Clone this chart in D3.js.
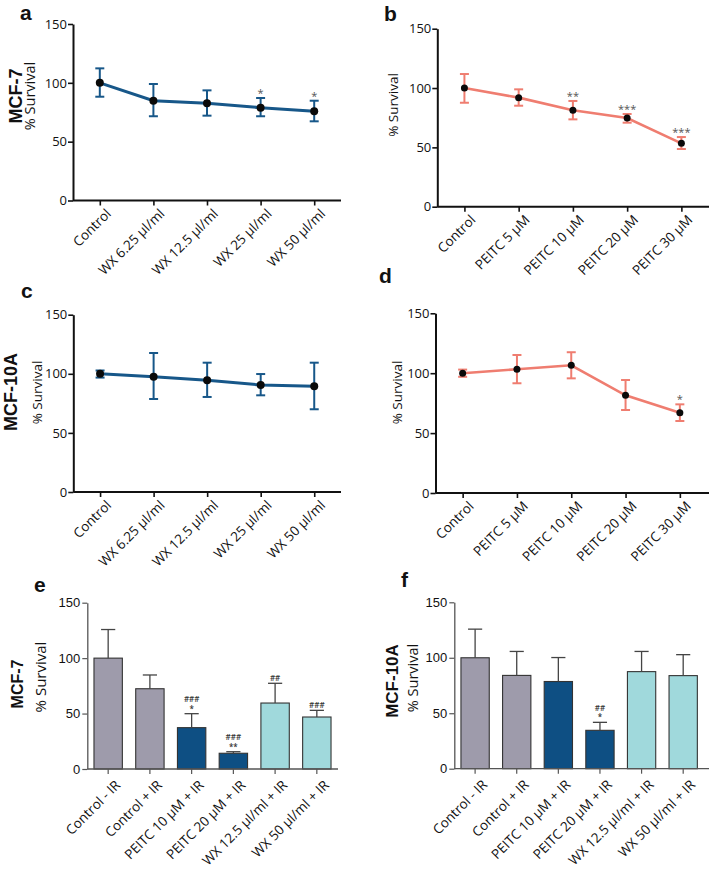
<!DOCTYPE html>
<html><head><meta charset="utf-8">
<script src="https://cdn.jsdelivr.net/npm/d3@7"></script>
<style>body{margin:0;background:#fff}svg{display:block}</style>
</head><body>
<svg id="c" width="709" height="869"></svg>
<script>
// ---------- data ----------
const wxCats = ["Control", "WX 6.25 µl/ml", "WX 12.5 µl/ml", "WX 25 µl/ml", "WX 50 µl/ml"];
const peitcCats = ["Control", "PEITC 5 µM", "PEITC 10 µM", "PEITC 20 µM", "PEITC 30 µM"];
const barCats = ["Control - IR", "Control + IR", "PEITC 10 µM + IR", "PEITC 20 µM + IR", "WX 12.5 µl/ml + IR", "WX 50 µl/ml + IR"];
const yTicks = [0, 50, 100, 150];

const aMean = [100, 84.8, 82.6, 78.9, 75.8];
const aLow  = [88.2, 71.6, 72.1, 71.6, 67.3];
const aHigh = [112.3, 99.0, 93.6, 87.1, 84.8];
const aSig  = ["", "", "", "*", "*"];

const bMean = [100, 91.9, 81.2, 74.7, 53.4];
const bLow  = [87.6, 85.1, 73.6, 70.8, 48.6];
const bHigh = [111.8, 98.9, 89.1, 78.1, 58.7];
const bSig  = ["", "", "**", "***", "***"];

const cMean = [100, 97.6, 94.5, 90.5, 89.4];
const cLow  = [96.8, 78.7, 80.4, 81.8, 70.0];
const cHigh = [102.8, 117.6, 109.4, 99.8, 109.4];
const cSig  = ["", "", "", "", ""];

const dMean = [100, 103.3, 106.6, 81.5, 67.0];
const dLow  = [97.0, 91.6, 95.7, 69.3, 60.1];
const dHigh = [103.0, 115.2, 117.5, 94.3, 74.0];
const dSig  = ["", "", "", "", "*"];

const eMean = [100, 72.4, 37.3, 14.2, 59.5, 46.9];
const eHigh = [125.8, 84.8, 49.9, 15.6, 77.3, 52.9];
const eSig  = [[], [], ["*", "###"], ["**", "###"], ["##"], ["###"]];

const fMean = [100, 84.1, 78.6, 34.6, 87.5, 83.9];
const fHigh = [125.8, 105.7, 100.2, 41.8, 105.7, 102.8];
const fSig  = [[], [], [], ["*", "##"], [], []];

const barGroup = ["ctrl", "ctrl", "peitc", "peitc", "wx", "wx"];

// ---------- styles ----------
const BLUE = "#175789", SALMON = "#ef7d70";
const barFill = {ctrl: "#9e9bab", peitc: "#0e4f83", wx: "#a0d9dc"};
const sans = "'Open Sans', sans-serif";
const arial = "'Liberation Sans', Arial, sans-serif";
const svg = d3.select("#c");

function rotLabels(g, xc, cats, y0, dx, dy, fs) {
  g.selectAll(null).data(cats).enter().append("text")
    .attr("transform", d => `translate(${xc(d) + dx},${y0 + dy}) rotate(-45)`)
    .attr("text-anchor", "end")
    .attr("font-family", sans).attr("font-size", fs).attr("fill", "#111")
    .text(d => d);
}

function linePanel(o) {
  const x = d3.scalePoint().domain(o.cats).range([o.x0, o.x1]).padding(0.5);
  const y = d3.scaleLinear().domain([0, 150]).range([o.yb, o.yt]);
  const g = svg.append("g");
  const ya = g.append("g").attr("transform", `translate(${o.x0},0)`)
    .call(d3.axisLeft(y).tickValues(yTicks).tickSize(5).tickSizeOuter(0).tickPadding(1));
  const xa = g.append("g").attr("transform", `translate(0,${o.yb})`)
    .call(d3.axisBottom(x).tickSize(5).tickSizeOuter(0));
  xa.selectAll("text").remove();
  [ya, xa].forEach(a => {
    a.select(".domain").attr("stroke", "#111").attr("stroke-width", 2);
    a.selectAll(".tick line").attr("stroke", "#111").attr("stroke-width", 1.6);
  });
  xa.select(".domain").attr("d", `M${o.x0},0H${o.xEnd}`);
  ya.selectAll("text").attr("font-family", sans).attr("font-size", 13).attr("fill", "#111");
  rotLabels(g, x, o.cats, o.yb, 12, 14, 13.5);

  const idx = d3.range(o.cats.length);
  const line = d3.line().x(i => x(o.cats[i])).y(i => y(o.mean[i]));
  g.append("path").datum(idx).attr("d", line).attr("fill", "none")
    .attr("stroke", o.color).attr("stroke-width", o.lw);
  const cw = 4.5;
  const eb = g.selectAll(null).data(idx).enter().append("g");
  eb.append("line").attr("x1", i => x(o.cats[i])).attr("x2", i => x(o.cats[i]))
    .attr("y1", i => y(o.low[i])).attr("y2", i => y(o.high[i]));
  eb.append("line").attr("x1", i => x(o.cats[i]) - cw).attr("x2", i => x(o.cats[i]) + cw)
    .attr("y1", i => y(o.low[i])).attr("y2", i => y(o.low[i]));
  eb.append("line").attr("x1", i => x(o.cats[i]) - cw).attr("x2", i => x(o.cats[i]) + cw)
    .attr("y1", i => y(o.high[i])).attr("y2", i => y(o.high[i]));
  eb.selectAll("line").attr("stroke", o.color).attr("stroke-width", 2);
  g.selectAll(null).data(idx).enter().append("circle")
    .attr("cx", i => x(o.cats[i])).attr("cy", i => y(o.mean[i])).attr("r", o.r).attr("fill", "#0a0a0a");
  g.selectAll(null).data(idx.filter(i => o.sig[i])).enter().append("text")
    .attr("x", i => x(o.cats[i])).attr("y", i => y(o.high[i]) - 1)
    .attr("text-anchor", "middle").attr("font-family", sans).attr("font-size", 11).attr("fill", "#555")
    .text(i => o.sig[i]);
}

function barPanel(o) {
  const x = d3.scaleBand().domain(o.cats).range([o.x0, o.x1]).paddingInner(0.32).paddingOuter(0.16);
  const y = d3.scaleLinear().domain([0, 150]).range([o.yb, o.yt]);
  const g = svg.append("g");
  const idx = d3.range(o.cats.length);
  const bw = x.bandwidth();
  g.selectAll(null).data(idx).enter().append("rect")
    .attr("x", i => x(o.cats[i])).attr("width", bw)
    .attr("y", i => y(o.mean[i])).attr("height", i => y(0) - y(o.mean[i]))
    .attr("fill", i => barFill[barGroup[i]]).attr("stroke", "#333").attr("stroke-width", 1.1);
  const cx = i => x(o.cats[i]) + bw / 2;
  const eb = g.selectAll(null).data(idx).enter().append("g");
  eb.append("line").attr("x1", cx).attr("x2", cx).attr("y1", i => y(o.mean[i])).attr("y2", i => y(o.high[i]));
  eb.append("line").attr("x1", i => cx(i) - bw / 4).attr("x2", i => cx(i) + bw / 4)
    .attr("y1", i => y(o.high[i])).attr("y2", i => y(o.high[i]));
  eb.selectAll("line").attr("stroke", "#444").attr("stroke-width", 1.3);
  idx.forEach(i => {
    o.sig[i].forEach((s, k) => {
      g.append("text").attr("x", cx(i)).attr("y", y(o.high[i]) - 2 - 9.5 * k)
        .attr("text-anchor", "middle").attr("font-family", sans).attr("font-size", 8)
        .attr("font-weight", 600).attr("fill", "#333").text(s);
    });
  });
  const ya = g.append("g").attr("transform", `translate(${o.x0},0)`)
    .call(d3.axisLeft(y).tickValues(yTicks).tickSize(5).tickSizeOuter(0).tickPadding(2));
  const xa = g.append("g").attr("transform", `translate(0,${o.yb})`)
    .call(d3.axisBottom(x).tickSize(5).tickSizeOuter(0));
  xa.selectAll("text").remove();
  [ya, xa].forEach(a => {
    a.select(".domain").attr("stroke", "#555").attr("stroke-width", 1.3);
    a.selectAll(".tick line").attr("stroke", "#555").attr("stroke-width", 1.2);
  });
  xa.select(".domain").attr("d", `M${o.x0},0H${o.xEnd}`);
  ya.selectAll("text").attr("font-family", arial).attr("font-size", 13).attr("fill", "#111");
  rotLabels(g, d => x(d) + bw / 2, o.cats, o.yb, 13, 17, 13.5);
}

function label(t, x, y, fs, bold) {
  svg.append("text").attr("x", x).attr("y", y).attr("font-family", arial)
    .attr("font-size", fs).attr("font-weight", bold ? "bold" : "normal").attr("fill", "#111").text(t);
}
function vlabel(t, x, cy, fs, bold, fam) {
  svg.append("text").attr("transform", `translate(${x},${cy}) rotate(-90)`).attr("text-anchor", "middle")
    .attr("font-family", fam).attr("font-size", fs).attr("font-weight", bold ? "bold" : "normal")
    .attr("fill", "#111").text(t);
}

// ---------- panels ----------
linePanel({cats: wxCats, mean: aMean, low: aLow, high: aHigh, sig: aSig, color: BLUE, lw: 3, r: 4,
  x0: 73, x1: 341, xEnd: 341, yb: 200.5, yt: 24});
linePanel({cats: peitcCats, mean: bMean, low: bLow, high: bHigh, sig: bSig, color: SALMON, lw: 2.6, r: 3.5,
  x0: 437.3, x1: 708.5, xEnd: 709, yb: 206.7, yt: 28.7});
linePanel({cats: wxCats, mean: cMean, low: cLow, high: cHigh, sig: cSig, color: BLUE, lw: 3, r: 4,
  x0: 73.3, x1: 341, xEnd: 341, yb: 492, yt: 314.7});
linePanel({cats: peitcCats, mean: dMean, low: dLow, high: dHigh, sig: dSig, color: SALMON, lw: 2.6, r: 3.5,
  x0: 435.5, x1: 707, xEnd: 709, yb: 493, yt: 313.3});
barPanel({cats: barCats, mean: eMean, high: eHigh, sig: eSig, x0: 87.3, x1: 337.7, xEnd: 338, yb: 769, yt: 602.7});
barPanel({cats: barCats, mean: fMean, high: fHigh, sig: fSig, x0: 454.3, x1: 704, xEnd: 709, yb: 768.7, yt: 602.3});

label("a", 20, 20, 21, true);
label("b", 384, 21, 21, true);
label("c", 21, 298, 21, true);
label("d", 379, 283, 21, true);
label("e", 34, 592, 21, true);
label("f", 401, 587, 21, true);

vlabel("MCF-7", 22, 96, 18, true, arial);
vlabel("MCF-10A", 17, 392, 18, true, arial);
vlabel("MCF-7", 23, 684, 16, true, arial);
vlabel("MCF-10A", 398, 681, 17, true, arial);

vlabel("% Survival", 35, 96, 14.5, false, sans);
vlabel("% Survival", 398, 105, 13.5, false, sans);
vlabel("% Survival", 41.5, 392.5, 13.5, false, sans);
vlabel("% Survival", 401.5, 392.5, 13.5, false, sans);
vlabel("% Survival", 46, 677, 15, false, sans);
vlabel("% Survival", 418, 678, 14.5, false, sans);
</script>
</body></html>
